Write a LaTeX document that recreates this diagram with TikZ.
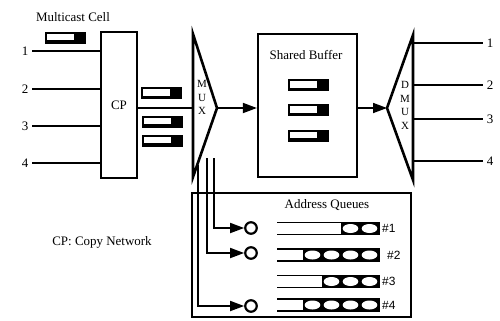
\documentclass[tikz,border=0pt]{standalone}
\usepackage{fontspec}
\setmainfont{Liberation Serif}
\newfontfamily\qfont{Liberation Sans}
\usetikzlibrary{arrows.meta}

% small cell icon: black block with a white payload window on its left
\newcommand\cellicon[3]{%
  \node[cellblk] (#1) at (#2,#3) {};
  \fill[white] ([xshift=2.5bp,yshift=-2.5bp]#1.north west)
     rectangle ([xshift=-12.5bp,yshift=3.5bp]#1.south east);}

% address queue: open bar with n occupied slots at its right end
\newcommand\addrqueue[5]{% name, y, slots, label x, label
  \coordinate (#1) at (328,#2);
  \draw[wire] (277,#2-6) -- (379,#2-6);
  \draw[wire] (277,#2+6) -- (379,#2+6);
  \fill (379-19*#3,#2-6.8) rectangle (379.8,#2+6.8);
  \foreach \k in {1,...,#3}
    \fill[white] (379-19*\k+9.5,#2) ellipse [x radius=7.8bp, y radius=4.5bp];
  \node[qlbl, anchor=west] (#1l) at (#4,#2) {#5};}

\begin{document}
\begin{tikzpicture}[x=1bp,y=-1bp,
  wire/.style={line width=1.7bp},
  heavy/.style={line width=2.2bp},
  funnel/.style={line width=2.6bp, line join=miter},
  lbl/.style={font=\fontsize{13}{15}\selectfont, inner sep=0pt},
  qlbl/.style={font=\qfont\fontsize{12}{14}\selectfont, inner sep=0pt},
  stack/.style={font=\fontsize{11}{13.5}\selectfont, inner sep=0pt, align=center},
  cellblk/.style={fill=black, minimum width=41bp, minimum height=12bp, inner sep=0pt},
  boxed/.style={draw, heavy, inner sep=0pt, font=\fontsize{13}{15}\selectfont},
  tip/.style={-{Triangle[length=14bp,width=10bp]}},
  ring/.style={circle, draw, heavy, fill=white, minimum size=11.5bp, inner sep=0pt}]
\useasboundingbox (0,0) rectangle (500,320);

% ---- inputs and copy network ----
\node[lbl] at (73,17) {Multicast Cell};
\cellicon{mc}{65.5}{37.5}
\node[boxed, minimum width=36bp, minimum height=146bp] (cp) at (119,105) {CP};
\foreach \i/\y in {1/51,2/89,3/126,4/163}{
  \node[lbl] (in\i) at (25,\y) {\i};
  \draw[wire] ([xshift=4bp]in\i.east) -- (in\i -| cp.west);
}
\node[lbl] at (102,242) {CP: Copy Network};

% ---- multiplexer ----
\coordinate (mt) at (193,34);
\coordinate (mb) at (193,177);
\coordinate (ma) at (217,108);
\draw[funnel] (mt) -- (ma) -- (mb) -- cycle;
\node[stack] (muxl) at (202,97.5) {M\\U\\X};
\draw[wire] (cp.east |- ma) -- (mt |- ma);
\cellicon{ca}{161.5}{93}
\cellicon{cb}{162.5}{121.5}
\cellicon{cc}{162.5}{140.5}

% ---- shared buffer ----
\node[boxed, minimum width=99bp, minimum height=143bp] (buf) at (307.5,105.5) {};
\node[lbl] at (306,55) {Shared Buffer};
\cellicon{b1}{308.5}{85}
\cellicon{b2}{308.5}{110}
\cellicon{b3}{308.5}{135.5}
\draw[wire, tip] (ma) -- (buf.west |- ma);

% ---- demultiplexer and outputs ----
\coordinate (dt) at (413,35);
\coordinate (db) at (413,180);
\coordinate (da) at (387,108);
\draw[funnel] (dt) -- (da) -- (db) -- cycle;
\node[stack] (dmuxl) at (405,105.5) {D\\M\\U\\X};
\draw[wire, tip] (buf.east |- da) -- (da);
\foreach \i/\y in {1/43,2/85,3/119,4/161}{
  \node[lbl] (out\i) at (490,\y) {\i};
  \draw[wire] (dt |- out\i) -- ([xshift=-4bp]out\i.west);
}

% ---- address queues ----
\node[boxed, minimum width=219bp, minimum height=124bp] (aq) at (301.5,255) {};
\node[lbl] at (327,205) {Address Queues};
\addrqueue{q1}{228.5}{2}{382}{\#1}
\addrqueue{q2}{255}{4}{387}{\#2}
\addrqueue{q3}{281.5}{3}{382}{\#3}
\addrqueue{q4}{305}{4}{382}{\#4}

\coordinate (t1) at (214,158);
\coordinate (t2) at (207,158);
\coordinate (t4) at (198,165);
\node[ring] (c1) at (251,228) {};
\node[ring] (c2) at (251,253) {};
\node[ring] (c4) at (251,306) {};
\draw[wire, tip] (t1) |- (c1);
\draw[wire, tip] (t2) |- (c2);
\draw[wire, tip] (t4) |- (c4);
\end{tikzpicture}
\end{document}
